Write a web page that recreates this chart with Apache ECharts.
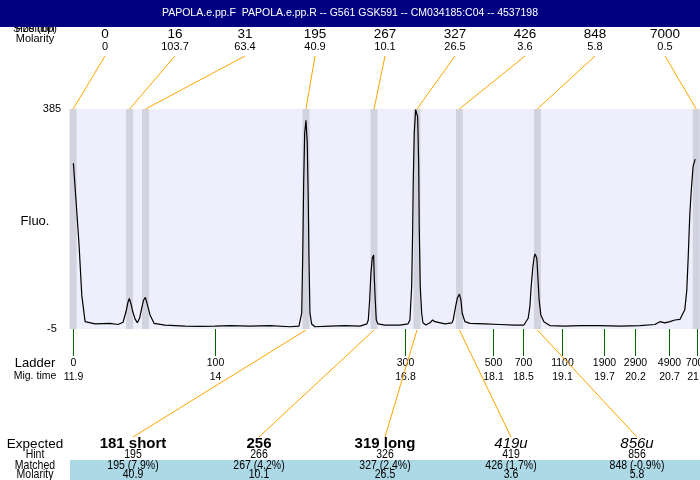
<!DOCTYPE html>
<html><head><meta charset="utf-8">
<script src="https://cdn.jsdelivr.net/npm/echarts@6/dist/echarts.min.js"></script>
<style>html,body{margin:0;padding:0;background:#fff}#c{width:700px;height:480px}</style>
</head><body><div id="c"></div>
<script>
// ---- data ----
const titleText = 'PAPOLA.e.pp.F  PAPOLA.e.pp.R -- G561 GSK591 -- CM034185:C04 -- 4537198';
const peakTimes = [11.896, 12.730, 12.966, 15.337, 16.343, 16.978, 17.605, 18.757, 21.105];
const peakSizes = ['0', '16', '31', '195', '267', '327', '426', '848', '7000'];
const peakMolarity = ['0', '103.7', '63.4', '40.9', '10.1', '26.5', '3.6', '5.8', '0.5'];
const ladderSizes = [0, 100, 300, 500, 700, 1100, 1900, 2900, 4900, 7000];
const ladderTimes = [11.90, 14.00, 16.80, 18.10, 18.54, 19.12, 19.74, 20.20, 20.70, 21.11];
const expectedLabels = ['181 short', '256', '319 long', '419u', '856u'];
const expectedItalic = [false, false, false, true, true];
const expectedPeak = [3, 4, 5, 6, 7];
const hintValues = ['195', '266', '326', '419', '856'];
const matchedValues = ['195 (7.9%)', '267 (4.2%)', '327 (2.4%)', '426 (1.7%)', '848 (-0.9%)'];
const matchedMolarity = ['40.9', '10.1', '26.5', '3.6', '5.8'];
const yTicks = [-5, 385];
const traceTime = [
  11.900, 11.940, 11.984, 12.024, 12.073, 12.102, 12.221, 12.442, 12.560, 12.634,
  12.678, 12.708, 12.727, 12.752, 12.777, 12.811, 12.845, 12.878, 12.910, 12.937,
  12.964, 12.996, 13.033, 13.092, 13.254, 13.550, 13.771, 13.993, 14.215, 14.510,
  14.805, 15.101, 15.234, 15.274, 15.289, 15.303, 15.318, 15.337, 15.356, 15.371,
  15.382, 15.396, 15.421, 15.470, 15.692, 15.913, 16.135, 16.238, 16.258, 16.278,
  16.297, 16.317, 16.337, 16.346, 16.361, 16.376, 16.401, 16.504, 16.726, 16.844,
  16.873, 16.899, 16.913, 16.922, 16.937, 16.958, 16.973, 16.988, 17.003, 17.011,
  17.026, 17.047, 17.065, 17.110, 17.169, 17.209, 17.243, 17.272, 17.390, 17.494,
  17.513, 17.549, 17.575, 17.605, 17.627, 17.646, 17.686, 17.760, 17.982, 18.203,
  18.425, 18.558, 18.621, 18.646, 18.665, 18.690, 18.710, 18.724, 18.749, 18.764,
  18.783, 18.808, 18.853, 18.941, 19.163, 19.385, 19.680, 19.975, 20.271, 20.493,
  20.567, 20.641, 20.715, 20.789, 20.863, 20.935, 20.965, 20.987, 21.009, 21.031,
  21.058, 21.088
];
const traceFluo = [
  289, 221, 144, 55, 8, 5, 4, 5, 3, 7,
  26, 43, 49, 39, 26, 13, 6, 14, 32, 46,
  51, 37, 20, 5, 2, 0, -0.5, 0, 1, 0,
  1, -1, 0, 23, 123, 254, 342, 365, 325, 224,
  117, 23, 4, -1, 0, 1, 0, 4, 11, 46,
  94, 121, 126, 88, 46, 11, 4, 2, 2, 4,
  11, 70, 165, 254, 342, 384, 385, 371, 283, 176,
  70, 23, 6, 2, 6, 11, 8, 5, 4, 6,
  11, 35, 50, 57, 46, 23, 8, 5, 4, 3,
  2, 2, 14, 35, 70, 105, 123, 128, 120, 88,
  46, 20, 8, 1, 0, 1, 1, 0, 1, 3,
  8, 6, 8, 11, 12, 29, 64, 126, 197, 241,
  283, 296
];

// ---- chart ----
const FONT = '"Liberation Sans", Arial, Helvetica, sans-serif';
const ORANGE = '#FFA500';
const GREEN = '#006400';
const chart = echarts.init(document.getElementById('c'), null, {renderer: 'canvas'});

function txt(text, x, y, size, opts, sy) {
  const el = {
    type: 'text',
    style: Object.assign({text: text, x: 0, y: 0, fill: '#000', fontSize: size, fontFamily: FONT,
      align: 'center', verticalAlign: 'middle'}, opts || {}),
    x: x, y: y
  };
  if (sy) { el.scaleY = sy; }
  return el;
}

const option = {
  animation: false,
  backgroundColor: '#fff',
  grid: {left: 70, top: 109, width: 630, height: 220, show: true, backgroundColor: '#EEEEFC', borderWidth: 0},
  xAxis: {type: 'value', min: 11.85, max: 21.16, show: false},
  yAxis: {
    type: 'value', min: -5, max: 385,
    axisLine: {show: false}, axisTick: {show: false}, splitLine: {show: false},
    axisLabel: {customValues: yTicks, align: 'center', margin: 18, fontSize: 11, fontFamily: FONT, color: '#000'}
  },
  graphic: [
    txt('Position', 35, 29, 11),
    txt('Size (bp)', 35, 29, 11),
    {type: 'rect', shape: {x: 0, y: 0, width: 700, height: 27}, style: {fill: '#000080'}},
    txt(titleText, 350, 13, 10.5, {fill: '#fff'}),
    txt('Molarity', 35, 39, 11),
    txt('Fluo.', 35, 221, 13),
    txt('Ladder', 35, 363, 13),
    txt('Mig. time', 35, 376, 10.5),
    {type: 'rect', shape: {x: 70, y: 460, width: 630, height: 20}, style: {fill: '#ADD8E6'}, z: -1},
    txt('Expected', 35, 444, 13.5),
    txt('Hint', 35, 455, 10.5, null, 1.2),
    txt('Matched', 35, 465.5, 10.5, null, 1.2),
    txt('Molarity', 35, 475, 10.5, null, 1.2)
  ],
  series: [
    {
      type: 'custom', z: 1, silent: true,
      data: peakTimes.map(t => [t]),
      renderItem: function (params, api) {
        const cs = params.coordSys;
        const x = api.coord([api.value(0), 0])[0];
        return {type: 'rect', shape: {x: x - 3.5, y: cs.y, width: 7, height: cs.height}, style: {fill: '#D3D3E0'}};
      }
    },
    {
      type: 'line', z: 2, silent: true, showSymbol: false, symbol: 'none',
      data: traceTime.map((t, i) => [t, traceFluo[i]]),
      lineStyle: {color: '#000', width: 1.2}
    },
    {
      type: 'custom', z: 3, silent: true,
      data: peakTimes.map(t => [t]),
      renderItem: function (params, api) {
        const cs = params.coordSys;
        const i = params.dataIndex;
        const px = api.coord([api.value(0), 0])[0];
        const colW = cs.width / peakTimes.length;
        const cx = cs.x + (i + 0.5) * colW;
        return {type: 'group', children: [
          {type: 'line', shape: {x1: cx, y1: 56, x2: px, y2: cs.y}, style: {stroke: ORANGE, lineWidth: 1}},
          txt(peakSizes[i], cx, 34.5, 13.5),
          txt(peakMolarity[i], cx, 47, 11)
        ]};
      }
    },
    {
      type: 'custom', z: 3, silent: true,
      data: ladderTimes.map(t => [t]),
      renderItem: function (params, api) {
        const cs = params.coordSys;
        const i = params.dataIndex;
        const x = Math.round(api.coord([api.value(0), 0])[0]) + 0.5;
        const yb = cs.y + cs.height;
        return {type: 'group', children: [
          {type: 'line', shape: {x1: x, y1: yb, x2: x, y2: yb + 27}, style: {stroke: GREEN, lineWidth: 1}},
          txt(String(ladderSizes[i]), x, 363, 10.5),
          txt(String(parseFloat(ladderTimes[i].toFixed(1))), x, 377, 10.5)
        ]};
      }
    },
    {
      type: 'custom', z: 3, silent: true,
      data: expectedPeak.map(k => [peakTimes[k]]),
      renderItem: function (params, api) {
        const cs = params.coordSys;
        const j = params.dataIndex;
        const px = api.coord([api.value(0), 0])[0];
        const colW = cs.width / expectedLabels.length;
        const cx = cs.x + (j + 0.5) * colW;
        const yb = cs.y + cs.height;
        return {type: 'group', children: [
          {type: 'line', shape: {x1: px, y1: yb + 1, x2: cx, y2: 437}, style: {stroke: ORANGE, lineWidth: 1}},
          txt(expectedLabels[j], cx, 444, 15, expectedItalic[j] ? {fontStyle: 'italic'} : {fontWeight: 'bold'}),
          txt(hintValues[j], cx, 455, 10.5, null, 1.2),
          txt(matchedValues[j], cx, 465.5, 10.5, null, 1.2),
          txt(matchedMolarity[j], cx, 475, 10.5, null, 1.2)
        ]};
      }
    }
  ]
};
chart.setOption(option);
</script>
</body></html>
